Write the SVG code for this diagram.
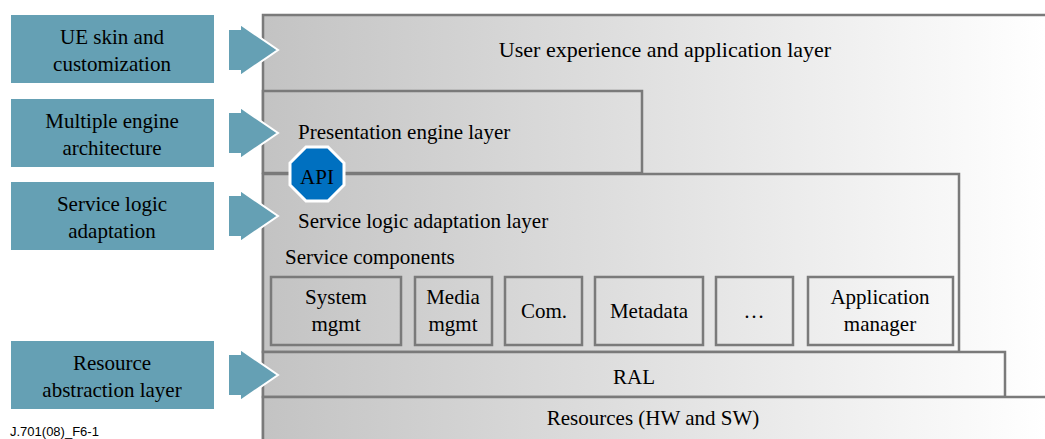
<svg xmlns="http://www.w3.org/2000/svg" width="1045" height="439" viewBox="0 0 1045 439">
<defs>
<linearGradient id="bg" gradientUnits="userSpaceOnUse" x1="263" y1="0" x2="1045" y2="0">
<stop offset="0" stop-color="#c3c3c3"/>
<stop offset="1" stop-color="#ffffff"/>
</linearGradient>
<polygon id="arr" points="-50,-21 -38,-21 -38,-26 0,0 -38,26 -38,21 -50,21"/>
</defs>
<style>
.s{font-family:'Liberation Serif','Times New Roman',Times,'Noto Serif','DejaVu Serif',FreeSerif,Tinos,serif;fill:#000;}
.lay{fill:url(#bg);stroke:#7a7a7a;stroke-width:2.5;}
.box{fill:url(#bg);stroke:#7a7a7a;stroke-width:2.5;}
.side{fill:#65a0b4;}
.ar{fill:#65a0b4;stroke:#fff;stroke-width:2;}
</style>
<rect width="1045" height="439" fill="#fff"/>
<g id="layers" class="s">
<g id="ue-layer">
<path class="lay" d="M263,445 V15 H1050 V445 Z"/>
<text class="s" x="665" y="57" font-size="22" text-anchor="middle">User experience and application layer</text>
</g>
<g id="presentation-layer">
<rect class="lay" x="263" y="91" width="379" height="82"/>
<text class="s" x="298" y="139" font-size="21">Presentation engine layer</text>
</g>
<g id="service-layer">
<rect class="lay" x="263" y="174" width="696" height="178"/>
<text class="s" x="298" y="228" font-size="21">Service logic adaptation layer</text>
<text class="s" x="285" y="264" font-size="21">Service components</text>
</g>
<g id="comp-system"><rect class="box" x="271" y="277" width="130" height="68"/><text class="s" font-size="21" text-anchor="middle"><tspan x="336" y="304">System</tspan><tspan x="336" y="331">mgmt</tspan></text></g>
<g id="comp-media"><rect class="box" x="415" y="277" width="77" height="68"/><text class="s" font-size="21" text-anchor="middle"><tspan x="453" y="304">Media</tspan><tspan x="453" y="331">mgmt</tspan></text></g>
<g id="comp-com"><rect class="box" x="505" y="277" width="77" height="68"/><text class="s" x="544" y="318" font-size="21" text-anchor="middle">Com.</text></g>
<g id="comp-metadata"><rect class="box" x="595" y="277" width="108" height="68"/><text class="s" x="649" y="318" font-size="21" text-anchor="middle">Metadata</text></g>
<g id="comp-more"><rect class="box" x="716" y="277" width="77" height="68"/><text class="s" x="754" y="318" font-size="21" text-anchor="middle">…</text></g>
<g id="comp-appmgr"><rect class="box" x="808" y="277" width="145" height="68"/><text class="s" font-size="21" text-anchor="middle"><tspan x="880" y="304">Application</tspan><tspan x="880" y="331">manager</tspan></text></g>
<g id="ral-layer">
<rect class="lay" x="263" y="352" width="742" height="45"/>
<text class="s" x="634" y="384" font-size="21" text-anchor="middle">RAL</text>
</g>
<g id="resources-layer">
<path class="lay" d="M263,445 V397 H1050 V445 Z"/>
<text class="s" x="653" y="425" font-size="21" text-anchor="middle">Resources (HW and SW)</text>
</g>
<g id="api">
<polygon points="306,147 328,147 344,163 344,185 328,201 306,201 290,185 290,163" fill="#0070c0" stroke="#fff" stroke-width="3"/>
<text class="s" x="317" y="184" font-size="21" text-anchor="middle">API</text>
</g>
</g>
<g id="sides">
<g id="side-ue"><rect class="side" x="11" y="15" width="203" height="68"/><text class="s" font-size="21" text-anchor="middle"><tspan x="112" y="44">UE skin and</tspan><tspan x="112" y="71">customization</tspan></text></g>
<g id="side-engine"><rect class="side" x="11" y="99" width="203" height="68"/><text class="s" font-size="21" text-anchor="middle"><tspan x="112" y="128">Multiple engine</tspan><tspan x="112" y="155">architecture</tspan></text></g>
<g id="side-service"><rect class="side" x="11" y="182" width="203" height="68"/><text class="s" font-size="21" text-anchor="middle"><tspan x="112" y="211">Service logic</tspan><tspan x="112" y="238">adaptation</tspan></text></g>
<g id="side-ral"><rect class="side" x="11" y="341" width="203" height="68"/><text class="s" font-size="21" text-anchor="middle"><tspan x="112" y="370">Resource</tspan><tspan x="112" y="397">abstraction layer</tspan></text></g>
</g>
<g id="connectors">
<use href="#arr" class="ar" x="278" y="50"/>
<use href="#arr" class="ar" x="278" y="133"/>
<use href="#arr" class="ar" x="278" y="216"/>
<use href="#arr" class="ar" x="278" y="375"/>
</g>
<text x="10" y="436" style="font-family:'Liberation Sans',Arial,sans-serif" font-size="13">J.701(08)_F6-1</text>
</svg>
